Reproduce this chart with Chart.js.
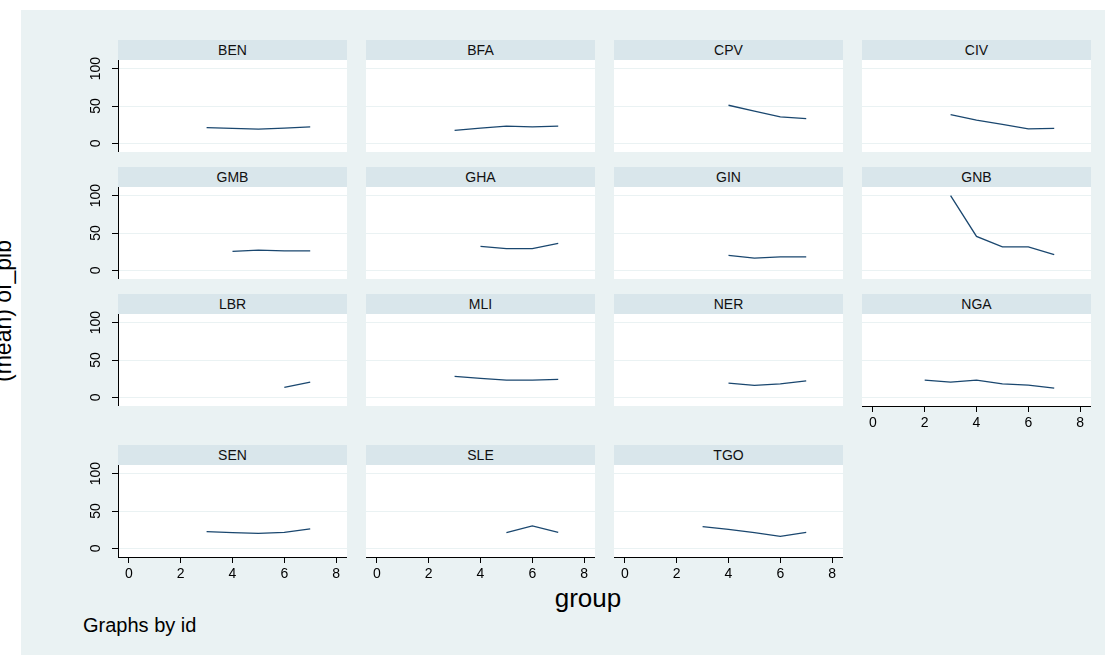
<!DOCTYPE html>
<html>
<head>
<meta charset="utf-8">
<title>(mean) of_pib by id</title>
<script src="https://cdn.jsdelivr.net/npm/chart.js@4.4.1/dist/chart.umd.min.js"></script>
<style>
  body { margin: 0; width: 1120px; height: 655px; background: #fff; position: relative; overflow: hidden;
         font-family: "Liberation Sans", Arial, sans-serif; }
  #bg { position: absolute; left: 21px; top: 10px; width: 1084px; height: 645px; background: #eaf2f3; }
  .strip { position: absolute; height: 20px; line-height: 20px; background: #d9e6eb; text-align: center;
           font-size: 14px; color: #111; }
  .panel { position: absolute; }
  .txt { position: absolute; color: #000; white-space: nowrap; line-height: 1; }
  #ytitle { font-size: 23px; left: 3px; top: 311px; transform: translate(-50%, -50%) rotate(-90deg); }
  #xtitle { font-size: 26px; left: 588px; top: 598px; transform: translate(-50%, -50%); }
  #note { font-size: 20px; left: 83px; top: 615px; }
</style>
</head>
<body>
<div id="bg"></div>
<div class="txt" id="ytitle">(mean) of_pib</div>
<div class="txt" id="xtitle">group</div>
<div class="txt" id="note">Graphs by id</div>
<script>
// data: mean of_pib per group, null = no observation
const groups = [1, 2, 3, 4, 5, 6, 7];
const BEN = [null, null, 21, 20, 19, 20.5, 22];
const BFA = [null, null, 17.5, 20.5, 23, 22, 23];
const CPV = [null, null, null, 51, 43, 35.5, 33];
const CIV = [null, null, 38.5, 31, 25.5, 19.5, 20];
const GMB = [null, null, null, 25.5, 27, 26, 26];
const GHA = [null, null, null, 32, 29, 29, 36];
const GIN = [null, null, null, 20, 16.5, 18, 18];
const GNB = [null, null, 100, 45.5, 31.5, 31.5, 21];
const LBR = [null, null, null, null, null, 13.5, 20.5];
const MLI = [null, null, 28, 25.5, 23, 23, 24];
const NER = [null, null, null, 19, 16, 18, 22];
const NGA = [null, 23, 20.5, 23, 18, 16.5, 12.5];
const SEN = [null, null, 22.5, 21, 20, 21.5, 26];
const SLE = [null, null, null, null, 21, 30, 21.5];
const TGO = [null, null, 29, 25.5, 21, 16, 21.5];

const ids = ['BEN', 'BFA', 'CPV', 'CIV', 'GMB', 'GHA', 'GIN', 'GNB', 'LBR', 'MLI', 'NER', 'NGA', 'SEN', 'SLE', 'TGO'];
const series = [BEN, BFA, CPV, CIV, GMB, GHA, GIN, GNB, LBR, MLI, NER, NGA, SEN, SLE, TGO];
const xTicks = [0, 2, 4, 6, 8];
const yTicks = [0, 50, 100];

// layout of the small multiples
const colLeft = [118, 366, 614, 862];
const rowTop = [40, 167, 294, 445];
const plotW = 229, plotH = 92, stripH = 20;
const yAxisW = 40, xAxisH = 32, padTop = 12;

Chart.defaults.font.family = '"Liberation Sans", Arial, sans-serif';
Chart.defaults.font.size = 14;
Chart.defaults.color = '#000';

ids.forEach((id, i) => {
  const col = i % 4, row = Math.floor(i / 4);
  const showY = col === 0;
  const showX = i + 4 >= ids.length; // nothing below this panel

  const strip = document.createElement('div');
  strip.className = 'strip';
  strip.textContent = id;
  strip.style.left = colLeft[col] + 'px';
  strip.style.top = rowTop[row] + 'px';
  strip.style.width = plotW + 'px';
  document.body.appendChild(strip);

  const w = plotW + (showY ? yAxisW : 0);
  const h = plotH + padTop + (showX ? xAxisH : 0);
  const box = document.createElement('div');
  box.className = 'panel';
  box.style.left = (colLeft[col] - (showY ? yAxisW : 0)) + 'px';
  box.style.top = (rowTop[row] + stripH - padTop) + 'px';
  box.style.width = w + 'px';
  box.style.height = h + 'px';
  const cv = document.createElement('canvas');
  cv.width = w; cv.height = h;
  cv.style.width = w + 'px'; cv.style.height = h + 'px';
  box.appendChild(cv);
  document.body.appendChild(box);

  // white plot region
  const bgPlugin = {
    id: 'plotbg',
    beforeDraw(chart) {
      const a = chart.chartArea, ctx = chart.ctx;
      ctx.save();
      ctx.fillStyle = '#fff';
      ctx.fillRect(a.left, a.top, a.right - a.left, a.bottom - a.top);
      ctx.restore();
    }
  };

  new Chart(cv, {
    type: 'line',
    data: {
      datasets: [{
        data: groups.map((g, k) => ({ x: g, y: series[i][k] })),
        borderColor: '#1a476f',
        borderWidth: 1.3,
        pointRadius: 0,
        tension: 0,
        fill: false
      }]
    },
    options: {
      responsive: false,
      animation: false,
      events: [],
      layout: { padding: { top: padTop, left: 0, right: 0, bottom: 0 } },
      plugins: { legend: { display: false }, tooltip: { enabled: false } },
      scales: {
        x: {
          type: 'linear', min: -0.42, max: 8.42, display: showX,
          afterBuildTicks: s => { s.ticks = xTicks.map(v => ({ value: v })); },
          afterFit: s => { s.height = showX ? xAxisH : 0; s.paddingLeft = 0; s.paddingRight = 0; },
          grid: { drawOnChartArea: false, tickLength: 6, tickColor: '#000', tickWidth: 1 },
          border: { color: '#000', width: 1 },
          ticks: { padding: 3, minRotation: 0, maxRotation: 0 }
        },
        y: {
          type: 'linear', min: -11.5, max: 111.5,
          afterBuildTicks: s => { s.ticks = yTicks.map(v => ({ value: v })); },
          afterFit: s => { s.width = showY ? yAxisW : 0; s.paddingTop = 0; s.paddingBottom = 0; },
          grid: { color: '#eaf2f3', lineWidth: 1, drawTicks: showY, tickLength: 6, tickColor: '#000' },
          border: { display: showY, color: '#000', width: 1 },
          ticks: { display: showY, minRotation: 90, maxRotation: 90, crossAlign: 'center', padding: 4 }
        }
      }
    },
    plugins: [bgPlugin]
  });
});
</script>
</body>
</html>
